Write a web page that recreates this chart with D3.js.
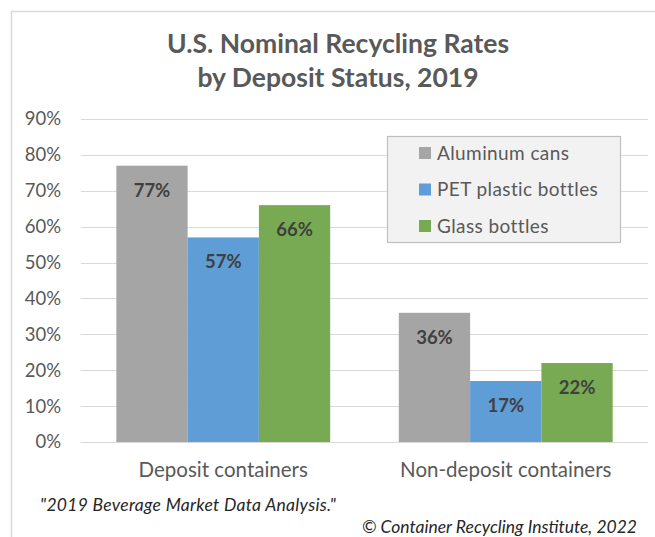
<!DOCTYPE html>
<html>
<head>
<meta charset="utf-8">
<script src="https://cdn.jsdelivr.net/npm/d3@7"></script>
<style>
  html, body { margin: 0; padding: 0; background: #fff; }
  svg { display: block; font-family: Lato, "Open Sans", sans-serif; }
</style>
</head>
<body>
<svg id="chart" width="655" height="537"></svg>
<script>
const categories = ["Deposit containers", "Non-deposit containers"];
const seriesNames = ["Aluminum cans", "PET plastic bottles", "Glass bottles"];
const aluminumCans = [0.77, 0.36];
const petBottles = [0.57, 0.17];
const glassBottles = [0.66, 0.22];
const yTicks = [0, 0.1, 0.2, 0.3, 0.4, 0.5, 0.6, 0.7, 0.8, 0.9];
const titleLines = ["U.S. Nominal Recycling Rates", "by Deposit Status, 2019"];
const footnote1 = "\"2019 Beverage Market Data Analysis.\"";
const footnote2 = "\u00A9 Container Recycling Institute, 2022";

const colors = ["#a5a5a5", "#5e9dd5", "#77aa52"];
const seriesValues = [aluminumCans, petBottles, glassBottles];

const svg = d3.select("#chart");

// outer chart border
svg.append("rect")
  .attr("x", 11.5).attr("y", 11.5)
  .attr("width", 700).attr("height", 600)
  .attr("fill", "none").attr("stroke", "#d9d9d9").attr("stroke-width", 1.5);

// title
svg.append("text")
  .attr("text-anchor", "middle")
  .attr("fill", "#595959")
  .attr("font-weight", "bold")
  .attr("font-size", 26.5)
  .selectAll("tspan").data(titleLines).join("tspan")
  .attr("x", 338)
  .attr("y", (d, i) => 53 + i * 34)
  .text(d => d);

const y = d3.scaleLinear().domain([0, 0.9]).range([442, 119]);
const x0 = d3.scaleBand().domain(categories).range([82, 647])
  .paddingInner(0.243).paddingOuter(0.1215);
const x1 = d3.scaleBand().domain(seriesNames).range([0, x0.bandwidth()]);

// gridlines
svg.append("g").selectAll("line").data(yTicks).join("line")
  .attr("x1", 81).attr("x2", 648)
  .attr("y1", d => Math.round(y(d)) + 0.5).attr("y2", d => Math.round(y(d)) + 0.5)
  .attr("stroke", "#d9d9d9").attr("stroke-width", 1.2);

// y axis labels
const yAxis = d3.axisLeft(y).tickValues(yTicks).tickFormat(d3.format(".0%")).tickSize(0).tickPadding(0);
const yg = svg.append("g").attr("transform", "translate(61,0)").call(yAxis);
yg.select(".domain").remove();
yg.selectAll("text").attr("font-size", 18.5).attr("fill", "#595959")
  .attr("font-family", "Lato, 'Open Sans', sans-serif");

// bars
const groups = svg.append("g").selectAll("g").data(categories).join("g")
  .attr("transform", d => `translate(${x0(d)},0)`);

groups.each(function(cat, ci) {
  const g = d3.select(this);
  const rows = seriesNames.map((s, si) => ({ s, si, v: seriesValues[si][ci] }));
  g.selectAll("rect").data(rows).join("rect")
    .attr("x", d => x1(d.s))
    .attr("width", x1.bandwidth())
    .attr("y", d => y(d.v))
    .attr("height", d => y(0) - y(d.v))
    .attr("fill", d => colors[d.si]);
  g.selectAll("text").data(rows).join("text")
    .attr("x", d => x1(d.s) + x1.bandwidth() / 2)
    .attr("y", d => y(d.v) + 31)
    .attr("text-anchor", "middle")
    .attr("font-weight", "bold")
    .attr("font-size", 18.5)
    .attr("fill", "#404040")
    .text(d => d3.format(".0%")(d.v));
});

// x axis labels
const xAxis = d3.axisBottom(x0).tickSize(0).tickPadding(0);
const xg = svg.append("g").attr("transform", "translate(0,477)").call(xAxis);
xg.select(".domain").remove();
xg.selectAll("text").attr("font-size", 20.5).attr("fill", "#595959")
  .attr("dy", 0).attr("font-family", "Lato, 'Open Sans', sans-serif");

// legend
const legend = svg.append("g");
legend.append("rect")
  .attr("x", 387.5).attr("y", 136.5).attr("width", 233).attr("height", 106)
  .attr("fill", "#f2f2f2").attr("stroke", "#bfbfbf").attr("stroke-width", 1.2);
const li = legend.selectAll("g").data(seriesNames).join("g")
  .attr("transform", (d, i) => `translate(419,${153 + i * 36.5})`);
li.append("rect").attr("x", 0).attr("y", -6).attr("width", 12).attr("height", 12)
  .attr("fill", (d, i) => colors[i]);
li.append("text").attr("x", 18).attr("y", 6.5)
  .attr("font-size", 19).attr("fill", "#595959")
  .attr("letter-spacing", 0.4)
  .text(d => d);

// footnotes
svg.append("text").attr("x", 40).attr("y", 511)
  .attr("font-size", 17.5).attr("font-style", "italic").attr("fill", "#262626")
  .attr("letter-spacing", 0.3)
  .text(footnote1);
svg.append("text").attr("x", 637).attr("y", 533).attr("text-anchor", "end")
  .attr("font-size", 17.5).attr("font-style", "italic").attr("fill", "#262626")
  .text(footnote2);
</script>
</body>
</html>
